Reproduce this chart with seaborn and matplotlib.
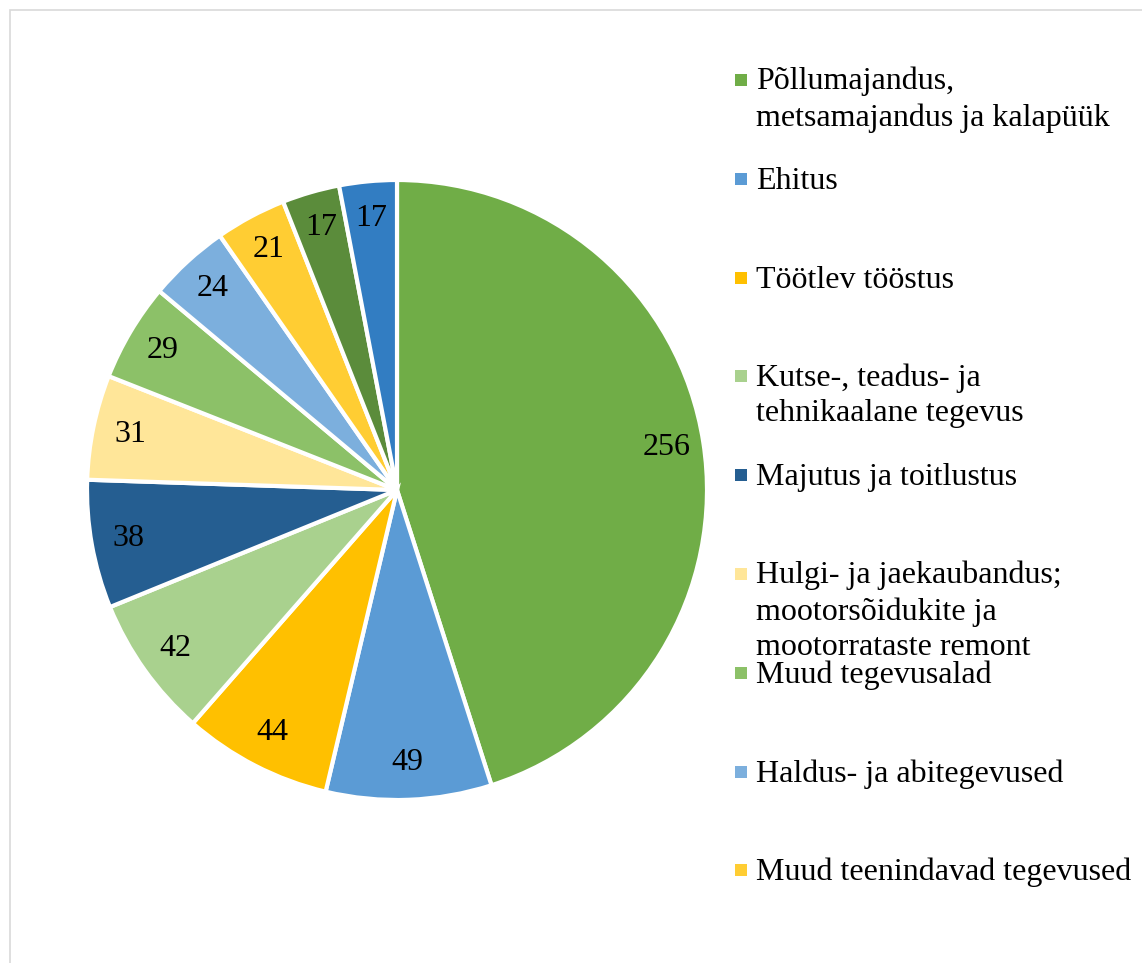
import seaborn as sns
import matplotlib.pyplot as plt
from matplotlib.patches import Rectangle

# values, clockwise from 12 o'clock
counts = [256, 49, 44, 42, 38, 31, 29, 24, 21, 17, 17]
sectors = [
    "Põllumajandus,\nmetsamajandus ja kalapüük",
    "Ehitus",
    "Töötlev tööstus",
    "Kutse-, teadus- ja\ntehnikaalane tegevus",
    "Majutus ja toitlustus",
    "Hulgi- ja jaekaubandus;\nmootorsõidukite ja\nmootorrataste remont",
    "Muud tegevusalad",
    "Haldus- ja abitegevused",
    "Muud teenindavad tegevused",
]
colors = ["#70AD47", "#5B9BD5", "#FFC000", "#A9D18E", "#255E91", "#FFE699",
          "#8CC168", "#7CAFDD", "#FFCD33", "#5B8C3B", "#327DC2"]

sns.set_theme(style="white")
plt.rcParams["font.family"] = ["Liberation Serif", "DejaVu Serif"]
plt.rcParams["text.color"] = "black"

W, H = 1142, 963
fig = plt.figure(figsize=(W / 100, H / 100), dpi=100)

# light frame around the chart area (right/bottom fall outside the image)
fig.patches.append(Rectangle((10 / W, -0.1), 1.2, (H - 10) / H + 0.1,
                             transform=fig.transFigure, fill=False,
                             edgecolor="#D9D9D9", linewidth=1.2))

cx, cy, r = 397, H - 490, 310
ax = fig.add_axes([(cx - r) / W, (cy - r) / H, 2 * r / W, 2 * r / H])
total = sum(counts)
wedges, texts, autotexts = ax.pie(
    counts, colors=colors, startangle=90, counterclock=False,
    autopct=lambda p: f"{round(p * total / 100)}", pctdistance=0.88,
    wedgeprops=dict(edgecolor="white", linewidth=3),
    textprops=dict(fontsize=23, color="black"))
ax.set_xlim(-1, 1)
ax.set_ylim(-1, 1)
ax.set_aspect("equal")

# legend: fixed spacing per entry, like the original
lax = fig.add_axes([0, 0, 1, 1])
lax.set_xlim(0, W)
lax.set_ylim(H, 0)
lax.axis("off")
y0, step = 80, 98.8
for i, lab in enumerate(sectors):
    y = y0 + i * step
    lax.scatter([741], [y], marker="s", s=70, color=colors[i], linewidths=0)
    if "\n" in lab:
        lax.text(756, y - 13, lab, fontsize=23, va="top", ha="left",
                 linespacing=1.3, color="black")
    else:
        lax.text(756, y + 10, lab, fontsize=23, va="baseline", ha="left",
                 color="black")

fig.savefig("out.png", dpi=100)
